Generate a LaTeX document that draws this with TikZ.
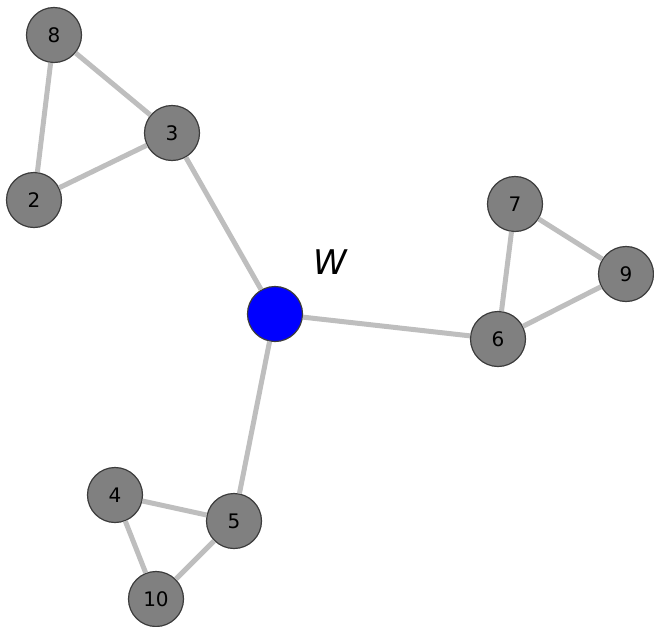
\documentclass[tikz,border=0pt]{standalone}
\usepackage{fontspec}
\setmainfont{DejaVu Sans}
\definecolor{edgegray}{RGB}{190,190,190}
\definecolor{nodegray}{RGB}{128,128,128}
\definecolor{rimgray}{RGB}{60,60,60}
\tikzset{
  vert/.style={circle, draw=rimgray, line width=1.2pt, fill=nodegray,
    minimum size=55pt, inner sep=0pt, font=\fontsize{20}{20}\selectfont},
  hub/.style={vert, fill=blue},
  link/.style={edgegray, line width=5pt}
}
\begin{document}
\begin{tikzpicture}[x=1pt, y=-1pt]
  \useasboundingbox (0,0) rectangle (654,627);
  \node[vert] (n8) at (54,35) {8};
  \node[vert] (n3) at (172,133) {3};
  \node[vert] (n2) at (34,200) {2};
  \node[vert] (n7) at (515,204) {7};
  \node[vert] (n9) at (626,274) {9};
  \node[vert] (n6) at (498,339) {6};
  \node[hub] (w) at (275,314) {};
  \node[vert] (n4) at (115,495) {4};
  \node[vert] (n5) at (234,521) {5};
  \node[vert] (n10) at (156,599) {10};
  \node[font=\fontsize{34}{34}\selectfont\itshape] (wlabel) at (330,262) {W};
  % edges stop at the circle borders
  \draw[link] (n8) -- (n3);
  \draw[link] (n8) -- (n2);
  \draw[link] (n2) -- (n3);
  \draw[link] (n3) -- (w);
  \draw[link] (w) -- (n6);
  \draw[link] (n6) -- (n7);
  \draw[link] (n7) -- (n9);
  \draw[link] (n9) -- (n6);
  \draw[link] (w) -- (n5);
  \draw[link] (n5) -- (n4);
  \draw[link] (n4) -- (n10);
  \draw[link] (n10) -- (n5);
\end{tikzpicture}
\end{document}
